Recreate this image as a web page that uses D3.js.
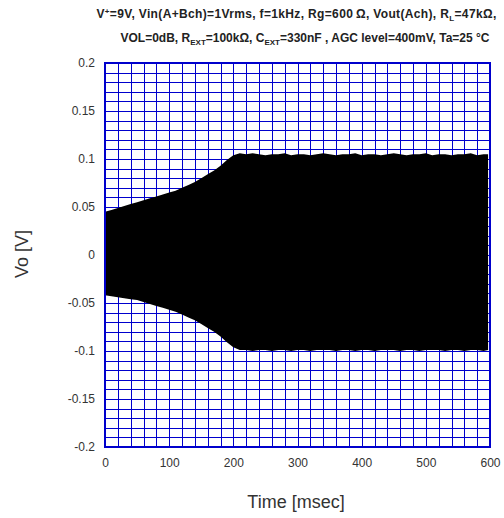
<!DOCTYPE html>
<html><head><meta charset="utf-8">
<script src="https://cdn.jsdelivr.net/npm/d3@7"></script>
<style>body{margin:0;background:#fff}svg{display:block}text{font-family:"Liberation Sans",Arial,sans-serif}</style>
</head><body>
<script>
// time samples [msec]
const times = [0,10,20,30,40,50,60,70,80,90,100,110,120,130,140,150,160,170,180,190,200,210,
  220,230,240,250,260,270,280,290,300,310,320,330,340,350,360,370,380,390,400,
  410,420,430,440,450,460,470,480,490,500,510,520,530,540,550,560,570,580,590,597];
// upper envelope of Vo [V]
const upper = [0.045,0.047,0.049,0.051,0.053,0.055,0.057,0.059,0.061,0.063,0.065,0.067,0.070,0.073,0.076,0.080,0.084,0.088,0.093,0.099,0.104,0.106,
  0.105,0.106,0.105,0.104,0.105,0.105,0.106,0.104,0.105,0.105,0.104,0.105,0.106,0.105,0.104,0.105,0.105,0.106,0.104,
  0.105,0.105,0.104,0.105,0.106,0.105,0.104,0.105,0.105,0.106,0.104,0.105,0.105,0.104,0.105,0.105,0.106,0.104,0.105,0.105];
// lower envelope of Vo [V]
const lower = [-0.042,-0.043,-0.044,-0.045,-0.046,-0.047,-0.049,-0.051,-0.053,-0.055,-0.057,-0.059,-0.062,-0.065,-0.068,-0.072,-0.076,-0.080,-0.085,-0.091,-0.096,-0.099,
  -0.099,-0.100,-0.099,-0.099,-0.100,-0.099,-0.099,-0.100,-0.099,-0.099,-0.100,-0.099,-0.099,-0.099,-0.100,-0.099,-0.099,-0.100,-0.099,
  -0.099,-0.100,-0.099,-0.099,-0.099,-0.100,-0.099,-0.099,-0.100,-0.099,-0.099,-0.099,-0.100,-0.099,-0.099,-0.100,-0.099,-0.099,-0.100,-0.099];
const xTicks = [0,100,200,300,400,500,600];
const yTicks = [0.2,0.15,0.1,0.05,0,-0.05,-0.1,-0.15,-0.2];
const yTickLabels = ["0.2","0.15","0.1","0.05","0","-0.05","-0.1","-0.15","-0.2"];

const W=504,H=518;
const svg=d3.select("body").append("svg").attr("width",W).attr("height",H);
const L=105,R=490,T=63,B=447;
const x=d3.scaleLinear().domain([0,600]).range([L,R]);
const y=d3.scaleLinear().domain([-0.2,0.2]).range([B,T]);
const blue="#0000cc";
const ff="Liberation Sans, Arial, sans-serif";

// grid
const g=svg.append("g");
g.selectAll("line.vx").data(d3.range(20,600,20)).join("line")
  .attr("x1",d=>Math.round(x(d))+0.5).attr("x2",d=>Math.round(x(d))+0.5)
  .attr("y1",T).attr("y2",B).attr("stroke",blue).attr("stroke-width",1);
g.selectAll("line.hy").data(d3.range(1,40).map(i=>-0.2+i*0.01)).join("line")
  .attr("y1",d=>Math.round(y(d))+0.5).attr("y2",d=>Math.round(y(d))+0.5)
  .attr("x1",L).attr("x2",R).attr("stroke",blue).attr("stroke-width",1);

// signal envelope (dense 1 kHz waveform appears solid)
const pts=times.map((t,i)=>({t,u:upper[i],l:lower[i]}));
svg.append("path").datum(pts)
  .attr("d",d3.area().x(d=>x(d.t)).y0(d=>y(d.l)).y1(d=>y(d.u)).curve(d3.curveLinear))
  .attr("fill","#000");

// frame
svg.append("rect").attr("x",L).attr("y",T).attr("width",R-L).attr("height",B-T)
  .attr("fill","none").attr("stroke",blue).attr("stroke-width",2);

// axes labels
const xa=svg.append("g").attr("transform",`translate(0,${B})`)
  .call(d3.axisBottom(x).tickValues(xTicks).tickSize(0).tickPadding(11));
xa.select(".domain").remove();
xa.selectAll("text").attr("font-size",12).attr("fill","#333").style("font-family",ff);
const ya=svg.append("g").attr("transform",`translate(${L},0)`)
  .call(d3.axisLeft(y).tickValues(yTicks).tickFormat((d,i)=>yTickLabels[i]).tickSize(0).tickPadding(10));
ya.select(".domain").remove();
ya.selectAll("text").attr("font-size",12).attr("fill","#333").style("font-family",ff);

svg.append("text").attr("x",296).attr("y",508).attr("text-anchor","middle")
  .attr("font-size",18).attr("fill","#333").text("Time [msec]");
svg.append("text").attr("transform","translate(28,254) rotate(-90)").attr("text-anchor","middle")
  .attr("font-size",18).attr("fill","#333").text("Vo [V]");

// title
const t1=svg.append("text").attr("x",296.5).attr("y",18).attr("text-anchor","middle")
  .attr("font-size",12).attr("font-weight","bold").attr("fill","#222").attr("letter-spacing",0.35);
t1.append("tspan").text("V");
t1.append("tspan").attr("dy",-4).attr("font-size",8).text("+");
t1.append("tspan").attr("dy",4).text("=9V, Vin(A+Bch)=1Vrms, f=1kHz, Rg=600\u2009\u03A9, Vout(Ach), R");
t1.append("tspan").attr("dy",3).attr("font-size",8).text("L");
t1.append("tspan").attr("dy",-3).text("=47k\u03A9,");
const t2=svg.append("text").attr("x",305).attr("y",42).attr("text-anchor","middle")
  .attr("font-size",12).attr("font-weight","bold").attr("fill","#222");
t2.append("tspan").text("VOL=0dB, R");
t2.append("tspan").attr("dy",3).attr("font-size",8).text("EXT");
t2.append("tspan").attr("dy",-3).text("=100k\u03A9, C");
t2.append("tspan").attr("dy",3).attr("font-size",8).text("EXT");
t2.append("tspan").attr("dy",-3).text("=330nF , AGC level=400mV, Ta=25 \u00B0C");
</script>
</body></html>
